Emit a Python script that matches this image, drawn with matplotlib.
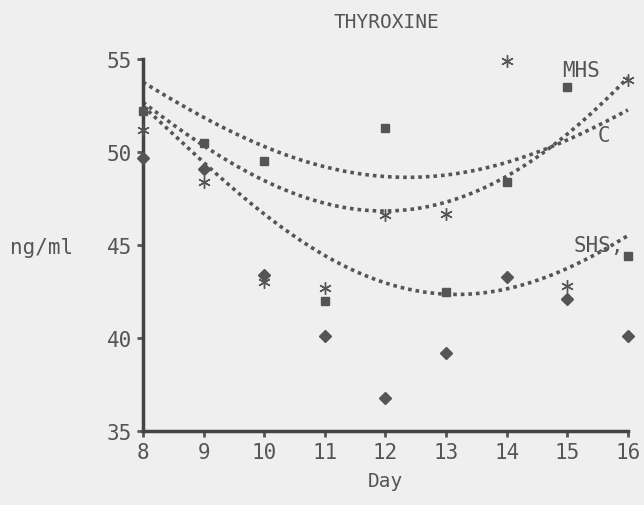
import numpy as np
import matplotlib
matplotlib.use("Agg")
from matplotlib import pyplot as plt

days = [8, 9, 10, 11, 12, 13, 14, 15, 16]

square_vals   = [52.2, 50.5, 49.5, 42.0, 51.3, 42.5, 48.4, 53.5, 44.4]
asterisk_vals = [51.2, 48.4, 43.0, 42.7, 46.6, 46.7, 54.9, 42.8, 53.9]
diamond_vals  = [49.7, 49.1, 43.4, 40.1, 36.8, 39.2, 43.3, 42.1, 40.1]

curve_c   = [53.8, 51.8, 50.3, 49.3, 48.7, 48.8, 49.2, 50.9, 52.2]
curve_mhs = [52.7, 50.3, 48.5, 47.3, 46.8, 47.3, 48.7, 51.0, 54.0]
curve_shs = [52.5, 49.4, 46.7, 44.5, 42.9, 42.4, 42.6, 43.8, 45.5]

curve_labels = ["C", "MHS", "SHS,"]
label_pos = [(15.5, 50.9), (14.92, 54.4), (15.1, 45.0)]

ink = "#555555"
bg = "#efefef"
mono = "DejaVu Sans Mono"

fig = plt.figure(figsize=(6.44, 5.06), dpi=100, facecolor=bg)
ax = fig.add_axes([0.222, 0.146, 0.753, 0.735])
ax.set_facecolor(bg)

xs = np.linspace(8, 16, 200)
for vals in [curve_c, curve_mhs, curve_shs]:
    coef = np.polyfit(days, vals, 4)
    ax.plot(xs, np.polyval(coef, xs), color=ink, lw=2.6,
            linestyle=(0, (1, 1.1)), clip_on=False)

ax.plot(days, square_vals, "s", color=ink, ms=6, clip_on=False, zorder=3)
ax.plot(days, asterisk_vals, marker=(6, 2, 0), ls="none", color=ink,
        ms=9, mew=1.0, clip_on=False, zorder=3)
ax.plot(days, diamond_vals, "D", color=ink, ms=6, clip_on=False, zorder=3)

for txt, (lx, ly) in zip(curve_labels, label_pos):
    ax.text(lx, ly, txt, color=ink, fontsize=15, family=mono,
            ha="left", va="center")

ax.set_xlim(8, 16)
ax.set_ylim(35, 55)
ax.set_xticks(days)
ax.set_yticks([35, 40, 45, 50, 55])
ax.set_yticklabels(["35", "40", "45", "50", "55"])

for s in ["top", "right"]:
    ax.spines[s].set_visible(False)
for s in ["left", "bottom"]:
    ax.spines[s].set_color("#444444")
    ax.spines[s].set_linewidth(2.5)

ax.tick_params(axis="both", colors=ink, labelsize=15, length=4, width=2,
               pad=4)
for lab in ax.get_xticklabels() + ax.get_yticklabels():
    lab.set_family(mono)

ax.set_xlabel("Day", color=ink, fontsize=14, family=mono, labelpad=6)
fig.text(0.015, (506 - 248) / 506, "ng/ml", color=ink, fontsize=15,
         family=mono, ha="left", va="center")
fig.text(386 / 644, 1 - 23 / 506, "THYROXINE", color=ink, fontsize=14,
         family=mono, ha="center", va="center")

fig.savefig("out.png", dpi=100, facecolor=bg)
